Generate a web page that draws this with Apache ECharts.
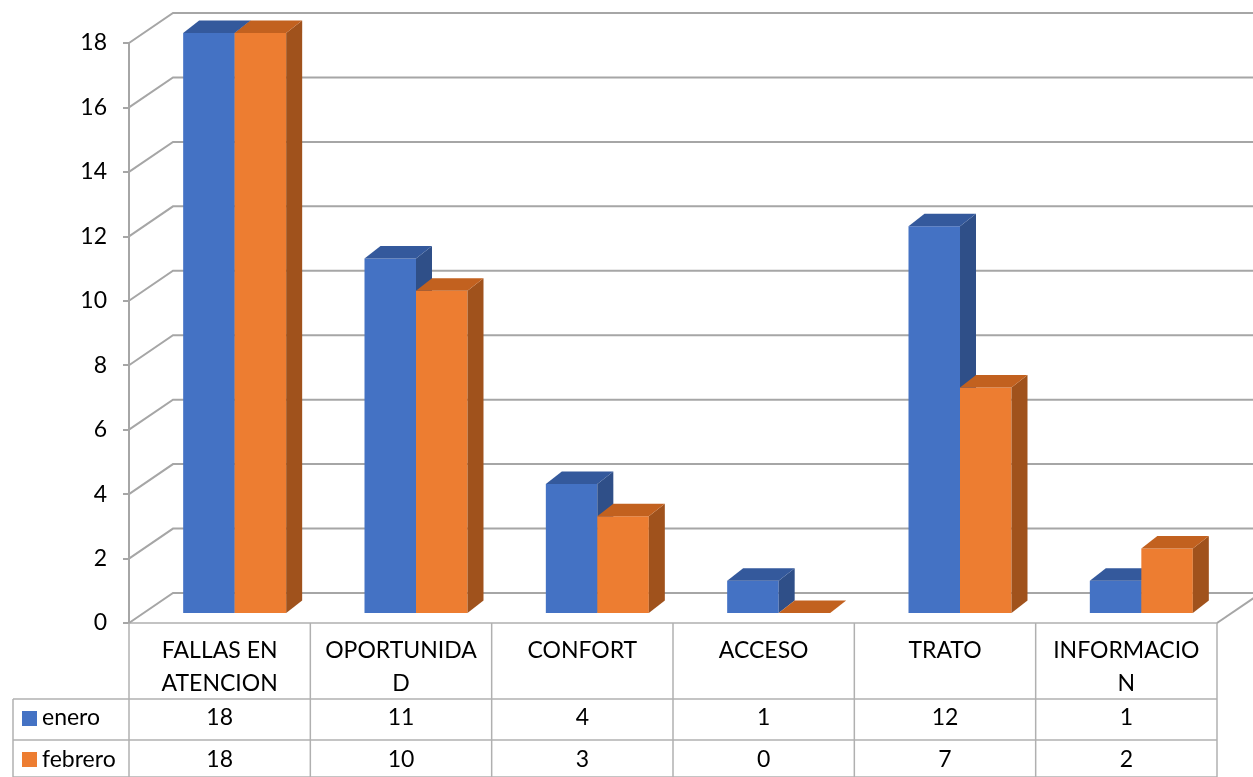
<!DOCTYPE html>
<html><head><meta charset="utf-8">
<script src="https://cdn.jsdelivr.net/npm/echarts@6/dist/echarts.min.js"></script>
<style>html,body{margin:0;padding:0;background:#fff}#c{width:1253px;height:777px}</style>
</head><body><div id="c"></div>
<script>
const categories = ['FALLAS EN\nATENCION','OPORTUNIDA\nD','CONFORT','ACCESO','TRATO','INFORMACIO\nN'];
const seriesNames = ['enero','febrero'];
const enero = [18,11,4,1,12,1];
const febrero = [18,10,3,0,7,2];
const yTicks = [0,2,4,6,8,10,12,14,16,18];

const FONT = 'Lato';
const FS = 23;
const WALL = '#a6a6a6';
const TABLE = '#b0b0b0';
const COLORS = [
  {front:'#4472C4', top:'#34599C', side:'#2F4F88'},
  {front:'#ED7D31', top:'#C2611F', side:'#A0521C'}
];
const WALL_DX = 44, WALL_DY = -30;     // back wall offset
const BAR_OX = 15, BAR_OY = -10;       // bars plane offset
const BAR_DX = 16, BAR_DY = -12.5;     // bar depth

const chart = echarts.init(document.getElementById('c'), null, {renderer:'canvas'});

function wallRender(params, api){
  const v = api.value(0);
  const cs = params.coordSys;
  const y = api.coord([0, v])[1];
  const x0 = cs.x, x1 = cs.x + cs.width;
  const children = [{
    type:'polyline',
    shape:{points:[[x0,y],[x0+WALL_DX,y+WALL_DY],[x1+WALL_DX,y+WALL_DY]]},
    style:{stroke:WALL, lineWidth:2, fill:null}
  }];
  if (v === 0) {
    children.push({type:'line', shape:{x1:x1,y1:y,x2:x1+WALL_DX,y2:y+WALL_DY},
      style:{stroke:WALL,lineWidth:2}});
  }
  return {type:'group', children};
}

function barRender(sIdx){
  return function(params, api){
    const i = api.value(0), v = api.value(1);
    const p0 = api.coord([i,0]);
    const p1 = api.coord([i,v]);
    const band = api.size([1,0])[0];
    const w = band*0.284;
    const xl = p0[0] + (sIdx===0 ? -w : 0) + BAR_OX;
    const xr = xl + w;
    const yb = p0[1] + BAR_OY, yt = p1[1] + BAR_OY;
    const c = COLORS[sIdx];
    const children = [];
    if (yb - yt > 0.5) {
      children.push({type:'rect', shape:{x:xl,y:yt,width:w,height:yb-yt}, style:{fill:c.front}});
      children.push({type:'polygon', shape:{points:[[xr,yt],[xr+BAR_DX,yt+BAR_DY],[xr+BAR_DX,yb+BAR_DY],[xr,yb]]}, style:{fill:c.side}});
    }
    children.push({type:'polygon', shape:{points:[[xl,yt],[xl+BAR_DX,yt+BAR_DY],[xr+BAR_DX,yt+BAR_DY],[xr,yt]]}, style:{fill:c.top}});
    return {type:'group', children};
  };
}

function tableRender(params, api){
  const i = api.value(0);
  const p = api.coord([i,0]);
  const band = api.size([1,0])[0];
  const cx = p[0], yb = p[1];
  const left = cx - band/2, right = cx + band/2;
  const r1 = yb + 76, r2 = yb + 117, r3 = yb + 154;
  const ln = (x1,y1,x2,y2) => ({type:'line', shape:{x1,y1,x2,y2}, style:{stroke:TABLE,lineWidth:1.5}});
  const txt = (x,y,s,align,vAlign) => ({type:'text', x, y, style:{text:s, fill:'#000', font:FS+'px '+FONT, align:align||'center', verticalAlign:vAlign||'middle', lineHeight:33}});
  const children = [
    ln(left,yb,left,r3),
    ln(left,r1,right,r1),
    ln(left,r2,right,r2),
    ln(left,r3,right,r3),
    txt(cx, yb+11, categories[i], 'center', 'top'),
    txt(cx, yb+95, String(enero[i])),
    txt(cx, yb+137, String(febrero[i]))
  ];
  if (i === categories.length-1) children.push(ln(right,yb,right,r3));
  if (i === 0) {
    const lx = 13;
    children.push(ln(lx,r1,lx,r3), ln(lx,r1,left,r1), ln(lx,r2,left,r2), ln(lx,r3,left,r3));
    children.push({type:'rect', shape:{x:22,y:yb+88,width:15,height:15}, style:{fill:COLORS[0].front}});
    children.push({type:'rect', shape:{x:22,y:yb+129,width:15,height:15}, style:{fill:COLORS[1].front}});
    children.push(txt(42, yb+95, seriesNames[0], 'left'));
    children.push(txt(42, yb+137, seriesNames[1], 'left'));
  }
  return {type:'group', children};
}

chart.setOption({
  animation:false,
  backgroundColor:'#fff',
  grid:{left:129, right:36, top:43, bottom:154},
  xAxis:{type:'category', data:categories,
    axisLine:{show:true, lineStyle:{color:TABLE, width:1.5}},
    axisTick:{show:false}, axisLabel:{show:false}, splitLine:{show:false}},
  yAxis:{type:'value', min:0, max:18, interval:2,
    axisLine:{show:true, lineStyle:{color:WALL, width:2}},
    axisTick:{show:true, length:6, lineStyle:{color:WALL, width:2}},
    axisLabel:{fontFamily:FONT, fontSize:FS, color:'#000', margin:22},
    splitLine:{show:false}},
  series:[
    {type:'custom', renderItem:wallRender, data:yTicks.map(v=>[v]), clip:false, silent:true, z:1, encode:{y:0}},
    {type:'custom', name:seriesNames[0], renderItem:barRender(0), data:enero.map((v,i)=>[i,v]), clip:false, z:2},
    {type:'custom', name:seriesNames[1], renderItem:barRender(1), data:febrero.map((v,i)=>[i,v]), clip:false, z:3},
    {type:'custom', renderItem:tableRender, data:categories.map((c,i)=>[i]), clip:false, silent:true, z:4, encode:{x:0}}
  ]
});
</script></body></html>
